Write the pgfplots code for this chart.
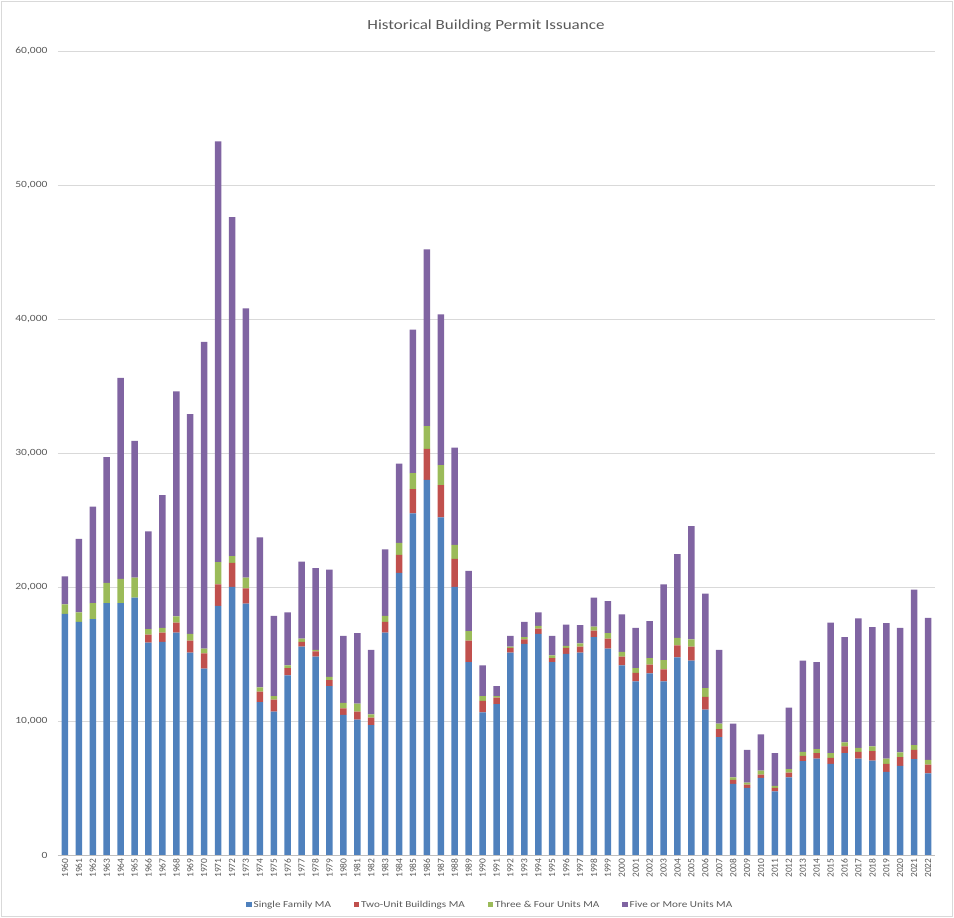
\documentclass[border=0pt]{standalone}
\usepackage{pgfplots}
\pgfplotsset{compat=1.18}
\usepackage{pgfplotstable}
\usepackage{fontspec}
\setmainfont{Carlito}[FakeStretch=1.22]
\newfontfamily\xfont{Carlito}
\definecolor{sfc}{HTML}{4F81BD}
\definecolor{tuc}{HTML}{C0504D}
\definecolor{tfc}{HTML}{9BBB59}
\definecolor{fmc}{HTML}{8064A2}
\definecolor{txt}{HTML}{595959}
\pgfplotstableread{
year sf tu tf fm
1960 18000 0 700 2100
1961 17400 0 700 5500
1962 17600 0 1200 7200
1963 18800 0 1500 9400
1964 18800 0 1800 15000
1965 19200 0 1500 10200
1966 15850 600 400 7300
1967 15900 700 350 9900
1968 16600 750 450 16800
1969 15100 900 500 16400
1970 13900 1150 350 22900
1971 18600 1600 1650 31400
1972 20000 1800 500 25300
1973 18750 1150 800 20100
1974 11400 800 300 11200
1975 10700 900 250 6000
1976 13400 550 200 3950
1977 15550 350 250 5750
1978 14800 400 100 6100
1979 12600 450 250 8000
1980 10450 500 400 5000
1981 10100 600 600 5250
1982 9700 550 250 4800
1983 16600 800 450 4950
1984 21050 1350 900 5900
1985 25500 1800 1200 10700
1986 28000 2300 1700 13200
1987 25200 2400 1500 11250
1988 20000 2100 1050 7250
1989 14400 1600 700 4500
1990 10650 850 350 2300
1991 11250 500 100 750
1992 15100 350 100 800
1993 15750 350 150 1150
1994 16500 400 200 1000
1995 14400 300 200 1450
1996 15000 450 150 1600
1997 15100 450 250 1350
1998 16250 500 300 2150
1999 15400 750 400 2400
2000 14150 650 350 2800
2001 12950 650 350 3000
2002 13550 650 500 2750
2003 12950 900 700 5650
2004 14750 900 550 6250
2005 14500 1050 550 8450
2006 10850 950 650 7050
2007 8800 600 400 5500
2008 5300 300 200 4000
2009 5000 250 150 2450
2010 5750 250 300 2700
2011 4750 250 150 2450
2012 5800 350 250 4600
2013 7000 400 300 6800
2014 7200 400 300 6500
2015 6800 450 350 9750
2016 7600 500 300 7850
2017 7200 500 300 9650
2018 7050 700 350 8900
2019 6200 600 400 10100
2020 6650 650 350 9300
2021 7150 700 350 11600
2022 6100 650 350 10600
}\data
\begin{document}
\begin{tikzpicture}
\useasboundingbox (0bp,0bp) rectangle (954bp,918bp);
\draw[black!15] (1.5bp,1.5bp) rectangle (952.5bp,916.5bp);
\node[font=\fontsize{14}{16}\selectfont, text=txt] at (486bp,892bp) {Historical Building Permit Issuance};
\begin{axis}[
  at={(58bp,63bp)}, anchor=south west,
  scale only axis, width=877bp, height=804bp,
  ybar stacked, bar width=6.5bp,
  xmin=1959.5, xmax=2022.5, ymin=0, ymax=60000,
  enlargelimits=false,
  xtick=data, ytick={0,10000,...,60000},
  scaled y ticks=false,
  axis x line*=bottom, axis y line*=left,
  x axis line style={draw=black!25, -},
  y axis line style={draw=none},
  major tick length=0pt,
  ymajorgrids, major grid style={draw=black!15, line width=0.6pt},
  /pgf/number format/assume math mode=true,
  xticklabel style={rotate=90, anchor=east, font=\xfont\fontsize{9.5}{10}\selectfont, text=txt, /pgf/number format/1000 sep={}},
  yticklabel style={font=\fontsize{9.5}{11}\selectfont, text=txt, /pgf/number format/1000 sep={,}, xshift=-7bp},
  legend style={at={(0.493,-0.062)}, anchor=center, draw=none, fill=none,
    legend columns=4, font=\fontsize{9.2}{11}\selectfont, text=txt,
    /tikz/every even column/.append style={column sep=21bp}},
  legend image code/.code={\draw[#1,draw=none] (0bp,-2.6bp) rectangle (5.2bp,2.6bp);},
]
\addplot[fill=sfc, draw=none] table[x=year,y=sf]{\data};
\addplot[fill=tuc, draw=none] table[x=year,y=tu]{\data};
\addplot[fill=tfc, draw=none] table[x=year,y=tf]{\data};
\addplot[fill=fmc, draw=none] table[x=year,y=fm]{\data};
\legend{Single Family MA, Two-Unit Buildings MA, Three \& Four Units MA, Five or More Units MA}
\end{axis}
\end{tikzpicture}
\end{document}
